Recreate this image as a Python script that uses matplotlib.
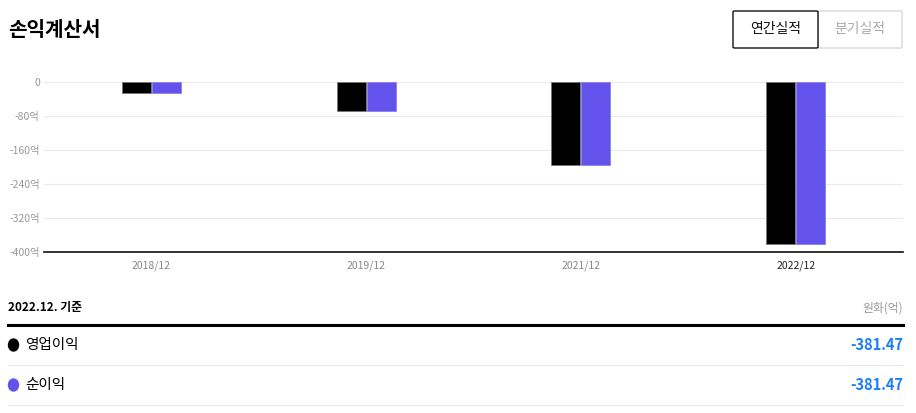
import matplotlib.pyplot as plt
import matplotlib.patches as patches
import numpy as np

plt.rcParams['font.family'] = ['Noto Sans CJK KR', 'DejaVu Sans']

# Data (억원)
periods = ['2018/12', '2019/12', '2021/12', '2022/12']
operating_profit = [-27, -68, -195, -381.47]
net_profit = [-27, -68, -195, -381.47]
y_ticks = [0, -80, -160, -240, -320, -400]
y_tick_labels = ['0', '-80억', '-160억', '-240억', '-320억', '-400억']
table_rows = ['영업이익', '순이익']
table_values = ['-381.47', '-381.47']

BLACK = '#000000'
PURPLE = '#6352eb'
GRAY = '#999999'
W, H = 916, 413

fig = plt.figure(figsize=(W / 100, H / 100), dpi=100)


def fx(px):
    return px / W


def fy(py):
    return 1 - py / H


# chart area
ax = fig.add_axes([fx(44), fy(252), fx(903) - fx(44), fy(82) - fy(252)])
x = np.arange(len(periods))
bw = 0.135
ax.bar(x - bw / 2 - 0.002, operating_profit, width=bw, color=BLACK, edgecolor='#777777', linewidth=0.6, zorder=3)
ax.bar(x + bw / 2 + 0.002, net_profit, width=bw, color=PURPLE, edgecolor='#8a80f0', linewidth=0.6, zorder=3)
ax.set_xlim(-0.5, len(periods) - 0.5)
ax.set_ylim(-400, 0)
ax.set_yticks(y_ticks)
ax.set_yticklabels(y_tick_labels)
ax.set_xticks(x)
ax.set_xticklabels(periods)
ax.tick_params(axis='y', length=0, pad=3, labelsize=7.5, labelcolor=GRAY)
ax.tick_params(axis='x', length=0, pad=6, labelsize=7.5, labelcolor='#888888')
for lbl in ax.get_xticklabels() + ax.get_yticklabels():
    lbl.set_fontweight('medium')
ax.get_xticklabels()[-1].set_color('#222222')
ax.grid(axis='y', color='#ebebeb', linewidth=0.8, zorder=0)
for s in ['top', 'left', 'right']:
    ax.spines[s].set_visible(False)
ax.spines['bottom'].set_color('#111111')
ax.spines['bottom'].set_linewidth(1.2)

# title
fig.text(fx(8), fy(30), '손익계산서', fontsize=14.5, fontweight='bold', va='center', ha='left')

# buttons
fig.patches.append(patches.FancyBboxPatch((fx(733), fy(48)), fx(85), fy(11) - fy(48),
                                          boxstyle='round,pad=0,rounding_size=0.002',
                                          transform=fig.transFigure, facecolor='white',
                                          edgecolor='#111111', linewidth=1.0, zorder=2))
fig.patches.append(patches.FancyBboxPatch((fx(818), fy(48)), fx(84), fy(11) - fy(48),
                                          boxstyle='round,pad=0,rounding_size=0.002',
                                          transform=fig.transFigure, facecolor='white',
                                          edgecolor='#d8d8e0', linewidth=1.0, zorder=1))
fig.text(fx(775.5), fy(29.5), '연간실적', fontsize=10, color='#111111', ha='center', va='center')
fig.text(fx(860), fy(29.5), '분기실적', fontsize=10, color='#aaaaaa', ha='center', va='center')

# table
fig.text(fx(8), fy(308), '2022.12. 기준', fontsize=8.5, fontweight='bold', ha='left', va='center')
fig.text(fx(903), fy(308), '원화(억)', fontsize=8.5, color=GRAY, ha='right', va='center')
fig.add_artist(plt.Line2D([fx(8), fx(903)], [fy(325), fy(325)], color='black', linewidth=2.2))

colors = [BLACK, PURPLE]
for i, (name, val) in enumerate(zip(table_rows, table_values)):
    yc = 345 + i * 40
    fig.add_artist(patches.Ellipse((fx(13.5), fy(yc)), fx(10), fy(0) - fy(12),
                                   transform=fig.transFigure, color=colors[i]))
    fig.text(fx(25), fy(yc), name, fontsize=10.5, fontweight='medium', ha='left', va='center')
    fig.text(fx(903), fy(yc), val, fontsize=10.5, fontweight='bold', color='#1a7dfc', ha='right', va='center')
    fig.add_artist(plt.Line2D([fx(8), fx(903)], [fy(yc + 20), fy(yc + 20)], color='#e8e8e8', linewidth=0.9))

fig.savefig('out.png', dpi=100)
